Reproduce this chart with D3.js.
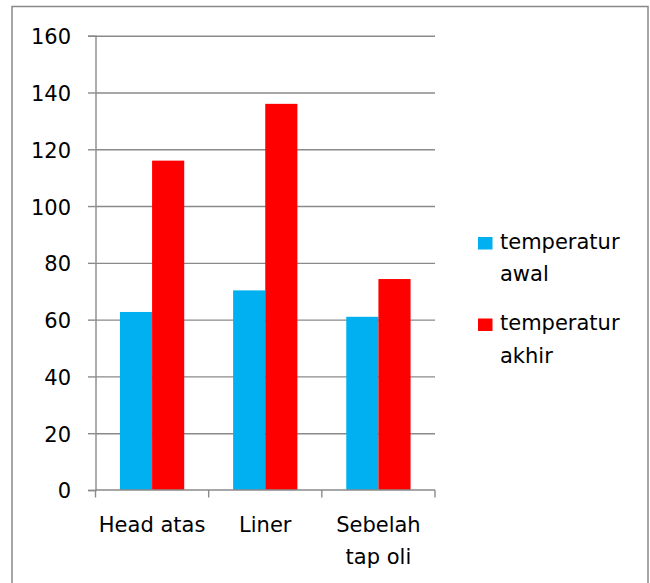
<!DOCTYPE html>
<html>
<head>
<meta charset="utf-8">
<script src="https://cdn.jsdelivr.net/npm/d3@7"></script>
<style>
  html, body { margin: 0; padding: 0; background: #fff; }
  svg { display: block; }
  text { font-family: "DejaVu Sans", sans-serif; fill: #000; }
</style>
</head>
<body>
<svg id="chart" width="650" height="583"></svg>
<script>
const categories = [["Head atas"], ["Liner"], ["Sebelah", "tap oli"]];
const seriesNames = [["temperatur", "awal"], ["temperatur", "akhir"]];
const awal = [62.7, 70.3, 61];
const akhir = [116, 136, 74.3];
const yTicks = [0, 20, 40, 60, 80, 100, 120, 140, 160];
const colors = ["#00B0F0", "#FF0000"];

(function () {
const svg = d3.select("#chart");

// outer border
svg.append("rect")
  .attr("x", 12).attr("y", 6.5)
  .attr("width", 636).attr("height", 600)
  .attr("fill", "#fff").attr("stroke", "#898989").attr("stroke-width", 1.5);

const pLeft = 95.5, pRight = 435, pTop = 35.7, pBottom = 490;
const fontSize = 21;

const x = d3.scaleBand().domain(d3.range(categories.length)).range([pLeft, pRight]).padding(0);
const y = d3.scaleLinear().domain([0, 160]).range([pBottom, pTop]);
const groupFrac = 0.568;
const xs = d3.scaleBand().domain([0, 1])
  .range([(x.bandwidth() * (1 - groupFrac)) / 2, (x.bandwidth() * (1 + groupFrac)) / 2]).padding(0);

// gridlines
const grid = svg.append("g").attr("transform", `translate(${pLeft},0)`)
  .call(d3.axisLeft(y).tickValues(yTicks.slice(1)).tickSize(-(pRight - pLeft)).tickFormat(""));
grid.select(".domain").remove();
grid.selectAll("line").attr("stroke", "#8a8a8a").attr("stroke-width", 1.4);

// bars
const data = categories.map((c, i) => ({ i, vals: [awal[i], akhir[i]] }));
const groups = svg.append("g").selectAll("g").data(data).join("g")
  .attr("transform", d => `translate(${x(d.i)},0)`);
groups.selectAll("rect").data(d => d.vals.map((v, s) => ({ v, s }))).join("rect")
  .attr("x", d => xs(d.s))
  .attr("width", xs.bandwidth())
  .attr("y", d => y(d.v))
  .attr("height", d => y(0) - y(d.v))
  .attr("fill", d => colors[d.s]);

// y axis
const ya = svg.append("g").attr("transform", `translate(${pLeft},0)`)
  .call(d3.axisLeft(y).tickValues(yTicks).tickSize(7.5).tickPadding(17));
ya.select(".domain").attr("stroke", "#8a8a8a").attr("stroke-width", 1.4);
ya.selectAll("line").attr("stroke", "#8a8a8a").attr("stroke-width", 1.4);
ya.selectAll("text").attr("font-size", fontSize).attr("font-family", "DejaVu Sans").attr("dy", "0.38em");

// x axis
const boundaries = d3.range(categories.length + 1).map(i => pLeft + i * x.step());
const xa = svg.append("g");
xa.append("line").attr("x1", pLeft).attr("x2", pRight).attr("y1", pBottom).attr("y2", pBottom)
  .attr("stroke", "#8a8a8a").attr("stroke-width", 1.4);
xa.selectAll("line.tick").data(boundaries).join("line").attr("class", "tick")
  .attr("x1", d => d).attr("x2", d => d).attr("y1", pBottom).attr("y2", pBottom + 7.5)
  .attr("stroke", "#8a8a8a").attr("stroke-width", 1.4);
const labels = xa.selectAll("text").data(categories).join("text")
  .attr("text-anchor", "middle")
  .attr("font-size", fontSize)
  .attr("x", (d, i) => x(i) + x.bandwidth() / 2)
  .attr("y", 532);
labels.selectAll("tspan").data(d => d).join("tspan")
  .attr("x", function () { return d3.select(this.parentNode).attr("x"); })
  .attr("dy", (d, i) => i === 0 ? 0 : 32)
  .text(d => d);

// legend
const legendY = [248.5, 330];
const lg = svg.append("g").selectAll("g").data(seriesNames).join("g")
  .attr("transform", (d, i) => `translate(478,${legendY[i]})`);
lg.append("rect").attr("x", 0).attr("y", -11.5).attr("width", 14.5).attr("height", 12.5)
  .attr("fill", (d, i) => colors[i]);
const lt = lg.append("text").attr("x", 22).attr("y", 0).attr("font-size", fontSize);
lt.selectAll("tspan").data(d => d).join("tspan")
  .attr("x", 22).attr("dy", (d, i) => i === 0 ? 0 : 32.5).text(d => d);
})();
</script>
</body>
</html>
